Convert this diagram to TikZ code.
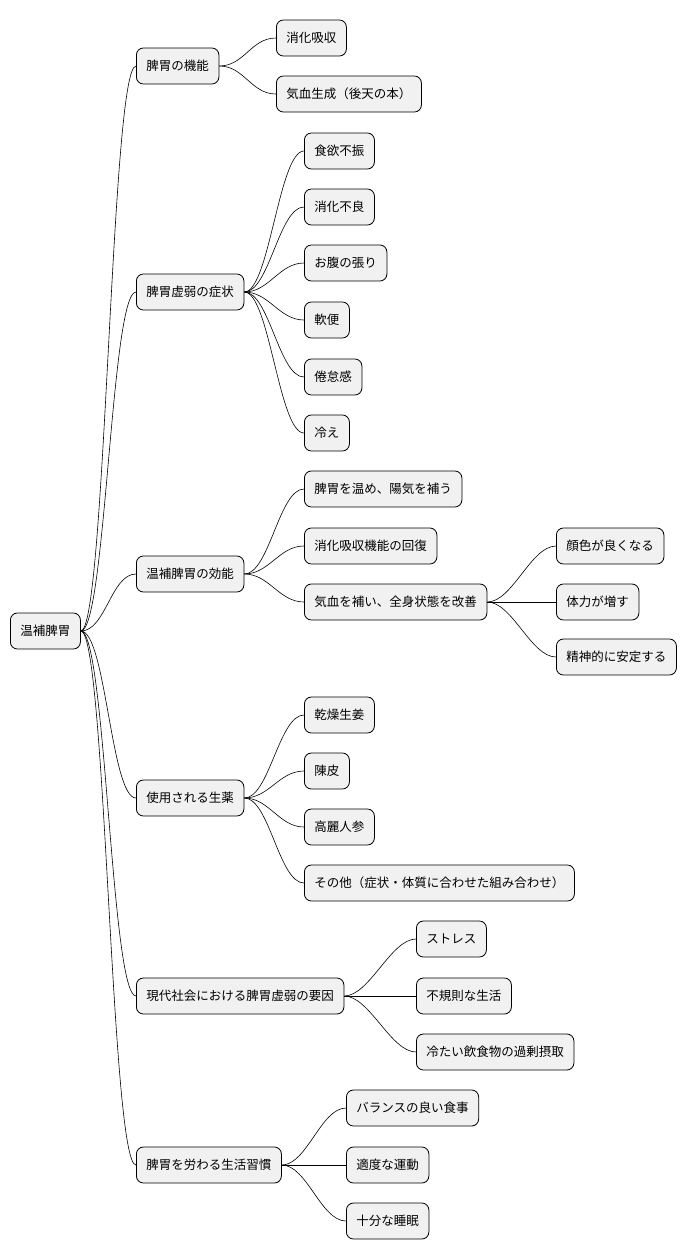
\documentclass[tikz,border=0pt]{standalone}
\usepackage{fontspec}
\setmainfont{Noto Sans CJK JP}
\begin{document}
\begin{tikzpicture}[x=1pt,y=-1pt,
  box/.style={draw=black,line width=0.8pt,fill={rgb,255:red,241;green,241;blue,241},rounded corners=7pt,
    minimum height=36pt,inner xsep=10pt,anchor=west,font=\fontsize{12.5pt}{14pt}\selectfont},
  link/.style={draw=black,line width=0.6pt}]
\useasboundingbox (0,0) rectangle (698,1259);
\node[box] (r) at (10,631) {温補脾胃};
\node[box] (a) at (136,66) {脾胃の機能};
\node[box] (a1) at (276,38) {消化吸収};
\node[box] (a2) at (276,94) {気血生成（後天の本）};
\node[box] (b) at (136,292) {脾胃虚弱の症状};
\node[box] (b1) at (304,151) {食欲不振};
\node[box] (b2) at (304,207) {消化不良};
\node[box] (b3) at (304,263) {お腹の張り};
\node[box] (b4) at (304,320) {軟便};
\node[box] (b5) at (304,377) {倦怠感};
\node[box] (b6) at (304,433) {冷え};
\node[box] (c) at (136,574) {温補脾胃の効能};
\node[box] (c1) at (304,489) {脾胃を温め、陽気を補う};
\node[box] (c2) at (304,546) {消化吸収機能の回復};
\node[box] (c3) at (304,602) {気血を補い、全身状態を改善};
\node[box] (d1) at (556,546) {顔色が良くなる};
\node[box] (d2) at (556,602) {体力が増す};
\node[box] (d3) at (556,657) {精神的に安定する};
\node[box] (e) at (136,798) {使用される生薬};
\node[box] (e1) at (304,715) {乾燥生姜};
\node[box] (e2) at (304,771) {陳皮};
\node[box] (e3) at (304,827) {高麗人参};
\node[box] (e4) at (304,883) {その他（症状・体質に合わせた組み合わせ）};
\node[box] (f) at (136,996) {現代社会における脾胃虚弱の要因};
\node[box] (f1) at (416,939) {ストレス};
\node[box] (f2) at (416,996) {不規則な生活};
\node[box] (f3) at (416,1052) {冷たい飲食物の過剰摂取};
\node[box] (g) at (136,1165) {脾胃を労わる生活習慣};
\node[box] (g1) at (346,1108) {バランスの良い食事};
\node[box] (g2) at (346,1165) {適度な運動};
\node[box] (g3) at (346,1221) {十分な睡眠};
\foreach \p/\c in {r/a,r/b,r/c,r/e,r/f,r/g,a/a1,a/a2,b/b1,b/b2,b/b3,b/b4,b/b5,b/b6,c/c1,c/c2,c/c3,c3/d1,c3/d2,c3/d3,e/e1,e/e2,e/e3,e/e4,f/f1,f/f2,f/f3,g/g1,g/g2,g/g3}
  \draw[link] (\p.east) .. controls ([xshift=25pt]\p.east) and ([xshift=-25pt]\c.west) .. (\c.west);
\end{tikzpicture}
\end{document}
